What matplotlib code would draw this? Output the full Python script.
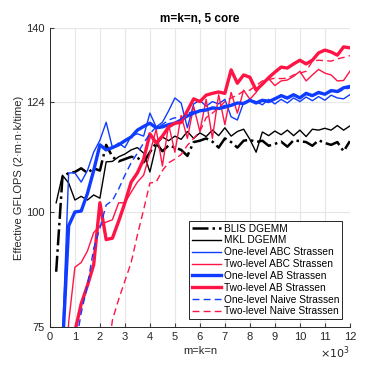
import numpy as np
import matplotlib
matplotlib.use('Agg')
import matplotlib.pyplot as plt

plt.rcParams['font.family'] = ['Liberation Sans', 'DejaVu Sans']

# problem sizes (x 10^3)
sizes = [0.25, 0.5, 0.75, 1.0, 1.25, 1.5, 1.75, 2.0, 2.25, 2.5, 2.75, 3.0,
         3.25, 3.5, 3.75, 4.0, 4.25, 4.5, 4.75, 5.0, 5.25, 5.5, 5.75, 6.0,
         6.25, 6.5, 6.75, 7.0, 7.25, 7.5, 7.75, 8.0, 8.25, 8.5, 8.75, 9.0,
         9.25, 9.5, 9.75, 10.0, 10.25, 10.5, 10.75, 11.0, 11.25, 11.5, 11.75, 12.0]

blis = [87, 107.5, 108.5, 108.7, 109.5, 108.5, 109.5, 109, 114.6, 112, 111, 111.5,
        112, 111.8, 110.8, 113, 115, 113.2, 114.5, 114, 113.5, 112.2, 115.2, 115.5,
        116, 115.3, 114, 116, 115.2, 114, 115.5, 115.7, 115.2, 115.5, 114.4, 114.8,
        115.3, 114.2, 115.6, 115.4, 115.2, 114.4, 115.6, 115, 114.6, 115.2, 113.2, 115.4]

mkl = [102, 108, 106.3, 102.6, 103.4, 102.6, 103.7, 103, 110.9, 111, 112, 112.6,
       113.5, 114, 112.8, 108.7, 114.5, 116.3, 115.5, 116.5, 115.8, 117.5, 116, 117.2,
       116.4, 117.8, 116.6, 118.3, 116.5, 117.5, 118, 115.8, 113, 117.4, 116.6, 117.6,
       116.8, 117.8, 116.6, 117.8, 116.4, 118, 117.8, 118.2, 117.8, 118.8, 117.8, 118.7]

abc1 = [45, 72, 108.5, 108.5, 106.5, 109, 113, 115.6, 119.5, 114, 115, 114,
        116.5, 117, 116.5, 121.5, 118.5, 119.5, 122, 124.8, 123.7, 118.3, 123.5, 124.3,
        123, 124, 123.5, 124.5, 120.7, 120, 123.8, 124.3, 124, 123.3, 124.5, 123.5,
        124.5, 123.7, 124.8, 124, 125, 124.2, 125.1, 124.3, 125.4, 124.8, 124.6, 125.5]

abc2 = [30, 50, 76, 88, 89, 91.5, 95.5, 97, 97.8, 98.3, 102, 102,
        104.3, 106.5, 108, 112.8, 118, 110, 119, 113, 121, 116, 123, 117.5,
        124.5, 116, 125.5, 119, 126, 121.5, 126.5, 124.5, 126, 128, 129, 127.5,
        128.5, 128.7, 129.5, 130.6, 128.5, 129.8, 131, 130.2, 129.8, 128.5, 128.6, 130.6]

ab1 = [40, 70, 97, 100, 100.2, 104, 109, 114.6, 113.5, 114, 114.6, 115.5,
       116.3, 117.8, 118.6, 119.3, 118.3, 118.5, 119, 119.3, 120, 120.9, 121.5, 122,
       122.2, 122.6, 122.5, 122.8, 123.2, 123.7, 123.6, 124.3, 123.7, 124.3, 124, 124.6,
       125.3, 124.8, 125.5, 124.8, 125.8, 125.3, 126, 125.6, 126.4, 126.2, 127, 127.3]

ab2 = [30, 45, 60, 74, 80, 84, 88.5, 102, 94, 94.3, 98, 102,
       106.5, 108.5, 111.5, 117, 115, 116.5, 118.5, 119.3, 119.5, 122, 124.6, 124,
       125.4, 125.8, 126.1, 125.8, 130.9, 128, 129.8, 129.3, 126.5, 127.8, 129.2, 130.4,
       131.5, 131.3, 132.2, 133, 132.2, 133, 134.6, 135.2, 134.8, 134.1, 135.9, 135.7]

naive1 = [40, 50, 60, 70, 78, 84, 92, 96.5, 101.5, 102.5, 105, 108,
          110.7, 112.8, 115, 117, 118.5, 119, 120, 120.5, 120.2, 121.5, 121.8, 122.2,
          122, 122.8, 122.6, 123.2, 123, 123.8, 123.6, 124, 123.8, 124.4, 124.2, 124.8,
          125, 124.6, 125.3, 125, 125.6, 125.2, 125.8, 125.5, 126.2, 126, 126.6, 127]

naive2 = [20, 25, 30, 35, 40, 45, 50, 55, 66, 76.5, 81, 85,
          89, 95, 100.5, 106.3, 106.5, 109, 110.7, 111.5, 112.5, 114.5, 116, 117.5,
          120.5, 121.5, 122.6, 124, 124.8, 125.4, 126.3, 126.5, 127.5, 128.5, 128.8, 129.1,
          129, 129.1, 129.8, 130.2, 130.6, 132.8, 133, 132.9, 132.8, 133.3, 133.6, 134]

blue = '#0F3CFF'
red = '#FF1446'

fig = plt.figure(figsize=(3.87, 3.69), dpi=100)
ax = fig.add_axes([0.129, 0.114, 0.775, 0.81])

ax.plot(sizes, blis, color='black', linestyle='-.', linewidth=1.8, label='BLIS DGEMM')
ax.plot(sizes, mkl, color='black', linestyle='-', linewidth=1.0, label='MKL DGEMM')
ax.plot(sizes, abc1, color=blue, linestyle='-', linewidth=1.0, label='One-level ABC Strassen')
ax.plot(sizes, abc2, color=red, linestyle='-', linewidth=1.0, label='Two-level ABC Strassen')
ax.plot(sizes, ab1, color=blue, linestyle='-', linewidth=2.4, label='One-level AB Strassen')
ax.plot(sizes, ab2, color=red, linestyle='-', linewidth=2.4, label='Two-level AB Strassen')
ax.plot(sizes, naive1, color=blue, linestyle=(0, (5, 3)), linewidth=1.0, label='One-level Naive Strassen')
ax.plot(sizes, naive2, color=red, linestyle=(0, (5, 3)), linewidth=1.0, label='Two-level Naive Strassen')

ax.set_xlim(0, 12)
ax.set_ylim(75, 140)
ax.set_xticks(range(0, 13))
ax.set_yticks([75, 100, 124, 140])
ax.tick_params(direction='in', labelsize=8, length=3, color='#404040', labelcolor='#262626')
ax.grid(True, color='#e6e6e6', linewidth=0.8)
ax.set_axisbelow(True)
for s in ['top', 'right']:
    ax.spines[s].set_visible(False)
for s in ['left', 'bottom']:
    ax.spines[s].set_color('#262626')
    ax.spines[s].set_linewidth(0.7)

ax.set_title('m=k=n, 5 core', fontsize=8.5, fontweight='bold', pad=4)
ax.set_xlabel('m=k=n', fontsize=8, color='#262626', labelpad=3)
ax.set_ylabel('Effective GFLOPS (2\u00b7m\u00b7n\u00b7k/time)', fontsize=8, color='#262626', labelpad=2)
ax.text(1.0, -0.085, r'$\times10^3$', transform=ax.transAxes, ha='right', va='center',
        fontsize=8, color='#262626')

leg = ax.legend(loc='lower right', bbox_to_anchor=(0.975, 0.025), fontsize=7.3,
                handlelength=2.9, handletextpad=0.25, labelspacing=0.18,
                borderpad=0.3, borderaxespad=0, fancybox=False, framealpha=1)
leg.get_frame().set_edgecolor('#262626')
leg.get_frame().set_linewidth(0.7)

plt.savefig('out.png', dpi=100)
plt.close()
